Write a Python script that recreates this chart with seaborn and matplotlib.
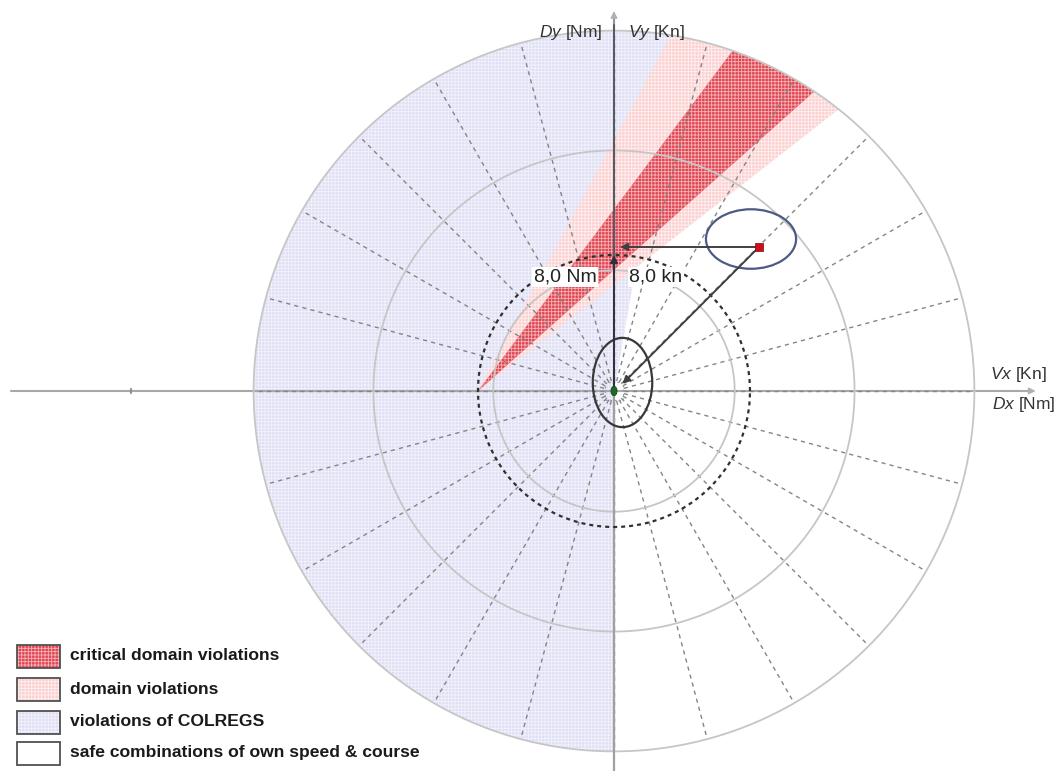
import numpy as np
import pandas as pd
import matplotlib
matplotlib.use("Agg")
import matplotlib.pyplot as plt
from matplotlib.patches import Wedge, Circle, Ellipse, Rectangle
import seaborn as sns

# ---------------- data (own ship at origin, 8 kn circle radius = 8) ----------------
ring_radii = [7.1, 14.15, 21.2]
speed_circle_radius = 8.0
radial_angles_deg = list(range(0, 360, 15))
radial_inner_radius = 0.6
colregs_sector_deg = [80.0, 270.0]
domain_apex = [-8.0, 0.0]
domain_sector_deg = [38.0, 61.5]
critical_sector_deg = [41.7, 53.2]
target_position = [8.53, 8.47]
target_domain_center = [8.06, 8.94]
target_domain_size = [5.3, 3.5]
own_domain_center = [0.5, 0.5]
own_domain_size = [3.5, 5.25]
own_velocity = [0.0, 8.0]
relative_velocity_end = [0.5, 0.42]
horizontal_vector_end = [0.35, 8.47]
speed_labels = ["8,0 Nm", "8,0 kn"]
axis_labels = [r"$\mathit{Dy}$ [Nm]", r"$\mathit{Vy}$ [Kn]", r"$\mathit{Vx}$ [Kn]", r"$\mathit{Dx}$ [Nm]"]
legend_labels = ["critical domain violations", "domain violations",
                 "violations of COLREGS", "safe combinations of own speed & course"]

# ---------------- styling ----------------
sns.set_theme(style="white")
plt.rcParams["font.family"] = ["Liberation Sans", "DejaVu Sans"]
plt.rcParams["mathtext.fontset"] = "custom"
plt.rcParams["mathtext.rm"] = "Liberation Sans"
plt.rcParams["mathtext.it"] = "Liberation Sans:italic"
plt.rcParams["hatch.linewidth"] = 0.6

C_RED, H_RED = "#df4552", "#f6b3b8"
C_PINK, H_PINK = "#fbd0d0", "#fff0f0"
C_BLUE, H_BLUE = "#dfdff5", "#f3f3fc"
HATCH = "+++++"

W, H = 1062, 771
fig = plt.figure(figsize=(W / 100, H / 100), dpi=100)
ax = fig.add_axes([0, 0, 1, 1])
S = 17.0  # px per unit
cx, cy = 614, 391
ax.set_xlim(-cx / S, (W - cx) / S)
ax.set_ylim(-(H - cy) / S, cy / S)
ax.set_aspect("equal")
ax.axis("off")

R = ring_radii[-1]
outer = Circle((0, 0), R, transform=ax.transData)

# COLREGS violation sector
ax.add_patch(Wedge((0, 0), R, colregs_sector_deg[0], colregs_sector_deg[1],
                   facecolor=C_BLUE, edgecolor=H_BLUE, lw=0, hatch=HATCH, zorder=1))
# domain violations
w = Wedge(tuple(domain_apex), 60, domain_sector_deg[0], domain_sector_deg[1],
          facecolor=C_PINK, edgecolor=H_PINK, lw=0, hatch=HATCH, zorder=2)
ax.add_patch(w); w.set_clip_path(outer)
w = Wedge(tuple(domain_apex), 60, critical_sector_deg[0], critical_sector_deg[1],
          facecolor=C_RED, edgecolor=H_RED, lw=0, hatch=HATCH, zorder=3)
ax.add_patch(w); w.set_clip_path(outer)

# axes lines
ax.plot([-35.5, 0], [0, 0], color="#a8a8a8", lw=1.5, zorder=4)
ax.plot([0, 24.4], [0, 0], color="#a8a8a8", lw=1.5, zorder=4)
ax.annotate("", xy=(24.8, 0), xytext=(24.0, 0),
            arrowprops=dict(arrowstyle="-|>", color="#b0b0b0", lw=1, mutation_scale=10,
                            shrinkA=0, shrinkB=0), zorder=4)
ax.plot([0, 0], [-23, 0], color="#a0a0a0", lw=1.6, zorder=6)
ax.plot([0, 0], [0, 22.1], color="#5a5a66", lw=1.5, zorder=6)
ax.annotate("", xy=(0, 22.35), xytext=(0, 21.6),
            arrowprops=dict(arrowstyle="-|>", color="#b0b0b0", lw=1, mutation_scale=10,
                            shrinkA=0, shrinkB=0), zorder=6)
ax.plot([-28.4, -28.4], [-0.12, 0.12], color="#909090", lw=1.5, zorder=4)

# radial dashed lines
rad_rows = []
for a in radial_angles_deg:
    t = np.deg2rad(a)
    for r in (radial_inner_radius, R):
        rad_rows.append({"angle": a, "x": r * np.cos(t), "y": r * np.sin(t)})
rad_df = pd.DataFrame(rad_rows)
sns.lineplot(data=rad_df, x="x", y="y", units="angle", estimator=None, sort=False,
             color="#858585", lw=1.0, linestyle=(0, (3, 3)), legend=False, ax=ax, zorder=5)

# range rings
th = np.linspace(0, 2 * np.pi, 400)
ring_df = pd.DataFrame([{"ring": r, "x": r * np.cos(t), "y": r * np.sin(t)}
                        for r in ring_radii for t in th])
sns.lineplot(data=ring_df, x="x", y="y", units="ring", estimator=None, sort=False,
             color="#c6c6c6", lw=1.3, legend=False, ax=ax, zorder=5)
spd_df = pd.DataFrame({"x": speed_circle_radius * np.cos(th), "y": speed_circle_radius * np.sin(th)})
sns.lineplot(data=spd_df, x="x", y="y", estimator=None, sort=False,
             color="#303030", lw=1.6, linestyle=(0, (1.8, 1.8)), legend=False, ax=ax, zorder=7)

# ellipses (ship domains)
ax.add_patch(Ellipse(tuple(target_domain_center), target_domain_size[0], target_domain_size[1],
                     fill=False, edgecolor="#4d5a86", lw=1.6, zorder=8))
ax.add_patch(Ellipse(tuple(own_domain_center), own_domain_size[0], own_domain_size[1],
                     fill=False, edgecolor="#383838", lw=1.6, zorder=8))
ax.add_patch(Rectangle((-0.53, -0.53), 1.06, 1.06, fill=False, edgecolor="#9a9a9a",
                       lw=0.8, linestyle=(0, (2, 2)), zorder=8))

# vectors
arrow_kw = dict(arrowstyle="-|>", color="#404040", lw=1.4, mutation_scale=11, shrinkA=0, shrinkB=0)
ax.annotate("", xy=tuple(horizontal_vector_end), xytext=tuple(target_position), arrowprops=arrow_kw, zorder=9)
ax.annotate("", xy=tuple(relative_velocity_end), xytext=tuple(target_position), arrowprops=arrow_kw, zorder=9)
ax.annotate("", xy=tuple(own_velocity), xytext=(0, 0), arrowprops=dict(arrow_kw, color="#303040"), zorder=9)

# ships
pts = pd.DataFrame({"x": [target_position[0]], "y": [target_position[1]]})
sns.scatterplot(data=pts, x="x", y="y", marker="s", s=40, color="#c8101e", edgecolor="#8a0010",
                linewidth=0.5, ax=ax, zorder=10, legend=False)
ax.add_patch(Ellipse((0, 0), 0.36, 0.55, facecolor="#1d6b2c", edgecolor="#0f4a1a", lw=0.6, zorder=10))

# labels
lab_y = (cy - 277) / S
ax.text(-2.88, lab_y, speed_labels[0], fontsize=14, ha="center", va="center", color="#222222",
        bbox=dict(facecolor="white", edgecolor="none", pad=1.0), zorder=11)
ax.text(2.47, lab_y, speed_labels[1], fontsize=14, ha="center", va="center", color="#222222",
        bbox=dict(facecolor="white", edgecolor="none", pad=1.0), zorder=11)
ax.text(-0.7, (cy - 32) / S, axis_labels[0], fontsize=12.5, ha="right", va="center", color="#333333", zorder=11)
ax.text(0.82, (cy - 32) / S, axis_labels[1], fontsize=12.5, ha="left", va="center", color="#333333", zorder=11)
ax.text((990 - cx) / S, (cy - 375) / S, axis_labels[2], fontsize=12.5, ha="left", va="center", color="#333333", zorder=11)
ax.text((992 - cx) / S, (cy - 404) / S, axis_labels[3], fontsize=12.5, ha="left", va="center", color="#333333", zorder=11)

# legend (figure pixel coordinates)
box_styles = [(C_RED, H_RED, HATCH), (C_PINK, H_PINK, HATCH), (C_BLUE, H_BLUE, HATCH), ("white", "white", None)]
row_centers = [656, 689.5, 722, 753]
for (fc, hc, hatch), yc, txt in zip(box_styles, row_centers, legend_labels):
    x0, y0 = 17 / W, 1 - (yc + 11.5) / H
    bw, bh = 43 / W, 23 / H
    fig.patches.append(Rectangle((x0, y0), bw, bh, transform=fig.transFigure,
                                 facecolor=fc, edgecolor=hc, lw=0, hatch=hatch, zorder=20))
    fig.patches.append(Rectangle((x0, y0), bw, bh, transform=fig.transFigure,
                                 fill=False, edgecolor="#505050", lw=1.3, zorder=21))
    fig.text(70 / W, 1 - yc / H, txt, fontsize=12.6, fontweight="bold", color="#1a1a1a",
             ha="left", va="center")

fig.savefig("out.png", dpi=100, facecolor="white")
